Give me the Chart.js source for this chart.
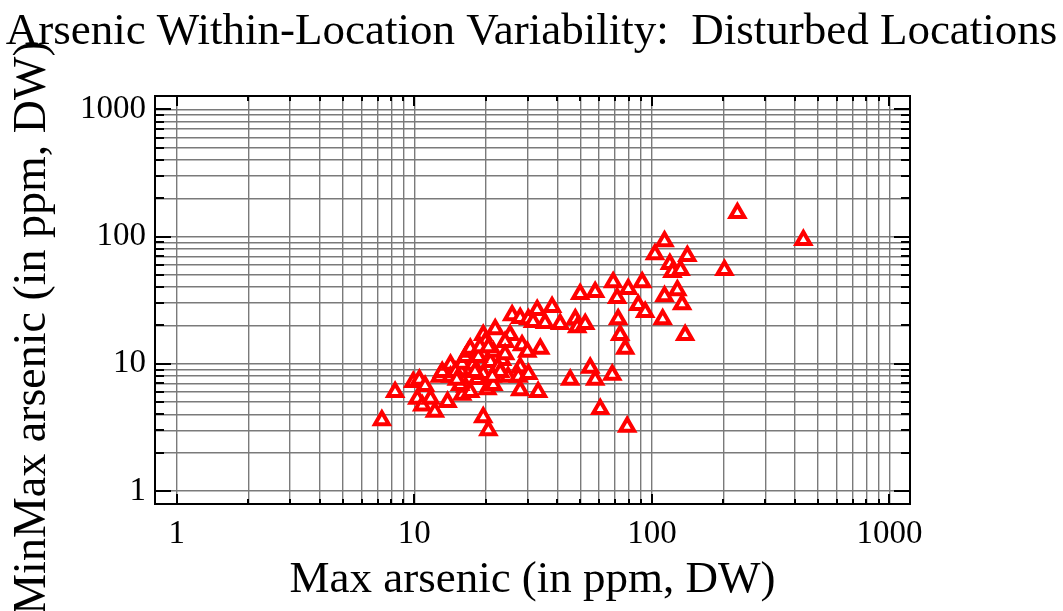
<!DOCTYPE html>
<html>
<head>
<meta charset="utf-8">
<title>Arsenic Within-Location Variability</title>
<script src="https://cdn.jsdelivr.net/npm/chart.js@4.4.1/dist/chart.umd.min.js"></script>
<style>
    html, body { margin: 0; padding: 0; background: #fff; }
    #wrap { width: 1063px; height: 611px; position: relative; }
</style>
</head>
<body>
<div id="wrap"><canvas id="chart"></canvas></div>
<script>
// Max arsenic per location (ppm, DW)
const maxArsenic = [
    7.3, 8.3, 9.9, 10.5, 10.3, 10.8, 11.7, 12.2, 13.8, 12.8,
    13.1, 14.2, 15.6, 15.9, 16.4, 16.9, 17.2, 17.7, 15.9, 16.4,
    17.2, 15.6, 18.4, 19.5, 20.3, 21.5, 20.9, 19.5, 19.9, 21.9,
    21.5, 23.4, 22.5, 19.5, 20.5, 25.3, 25.8, 27.9, 30.2, 32.9,
    38.0, 31.6, 35.5, 41.1, 47.6, 48.5, 52.4, 28.4, 29.9, 33.9,
    27.9, 24.8, 27.4, 30.2, 27.9, 33.2, 45.3, 55.0, 57.7, 68.1,
    60.6, 78.7, 49.9, 57.7, 68.7, 79.5, 91.0, 71.4, 87.6, 93.7,
    72.1, 73.5, 77.2, 103, 113, 119, 122, 132, 141, 128,
    113, 134, 111, 138, 202, 229, 434, 14.2, 14.9, 18.6,
    18.9, 20.5, 24.1, 23.0, 21.3, 18.0, 15.1, 11.1, 24.1
];
// MinMax arsenic per location (ppm, DW)
const minMaxArsenic = [
    3.6, 6.0, 7.2, 7.5, 5.3, 4.7, 5.3, 4.2, 5.0, 7.9,
    8.6, 9.8, 8.9, 10.0, 11.3, 12.4, 13.1, 9.8, 5.7, 6.6,
    6.0, 6.8, 7.6, 8.3, 6.3, 6.8, 10.3, 16.8, 14.8, 18.7,
    12.4, 10.7, 9.4, 3.8, 3.0, 16.8, 24.1, 22.9, 22.4, 26.4,
    27.9, 21.3, 20.9, 20.5, 22.4, 19.4, 20.5, 14.0, 12.4, 13.1,
    9.4, 7.9, 7.9, 8.3, 6.2, 6.0, 7.5, 9.3, 7.5, 8.2,
    4.4, 3.2, 35.3, 36.6, 43.8, 38.6, 43.8, 32.8, 28.9, 25.5,
    22.4, 16.8, 13.1, 72.7, 92, 60.7, 52.5, 54.5, 70.2, 37.9,
    34.0, 29.4, 22.4, 16.8, 54.5, 153, 93.7, 7.9, 8.6, 11.3,
    13.5, 13.5, 14.8, 8.6, 7.9, 8.6, 7.5, 6.7, 11.9
];
const tickLabels = [1, 10, 100, 1000];

const titleText = 'Arsenic Within-Location Variability:  Disturbed Locations';
const xTitle = 'Max arsenic (in ppm, DW)';
const yTitle = 'MinMax arsenic (in ppm, DW)';

const SERIF = '"Liberation Serif", "Times New Roman", serif';

// grid at 1..9 of every decade
const gridValues = [];
for (let d = 1; d < 1000; d *= 10) {
    for (let k = 1; k < 10; k++) gridValues.push(k * d);
}
gridValues.push(1000);

// box, inward tick marks and the two big titles
const frame = {
    id: 'frame',
    beforeDatasetsDraw(chart) {
        const { ctx, chartArea: a, scales: { x, y } } = chart;
        ctx.save();
        ctx.strokeStyle = '#000';
        ctx.lineWidth = 2;
        ctx.beginPath();
        gridValues.forEach(v => {
            const major = tickLabels.includes(v);
            const px = Math.round(x.getPixelForValue(v));
            const lx = major ? 10 : 5;
            ctx.moveTo(px, a.bottom); ctx.lineTo(px, a.bottom - lx);
            ctx.moveTo(px, a.top); ctx.lineTo(px, a.top + lx);
            const py = Math.round(y.getPixelForValue(v));
            const ly = major ? 16 : 9;
            ctx.moveTo(a.left, py); ctx.lineTo(a.left + ly, py);
            ctx.moveTo(a.right, py); ctx.lineTo(a.right - ly, py);
        });
        ctx.stroke();
        ctx.strokeRect(a.left, a.top, a.width, a.height);
        ctx.restore();
    },
    afterDraw(chart) {
        const ctx = chart.ctx;
        ctx.save();
        ctx.fillStyle = '#000';
        ctx.textAlign = 'center';
        ctx.textBaseline = 'middle';
        ctx.translate(33, 328);
        ctx.rotate(-Math.PI / 2);
        ctx.font = '46px ' + SERIF;
        ctx.fillText(yTitle, 0, 0);
        ctx.restore();

        ctx.save();
        ctx.fillStyle = '#000';
        ctx.textAlign = 'center';
        ctx.textBaseline = 'middle';
        ctx.font = '45px ' + SERIF;
        ctx.fillText(titleText, chart.width / 2, 32);
        ctx.restore();
    }
};

const logTicks = scale => { scale.ticks = gridValues.map(v => ({ value: v })); };
const tickText = v => tickLabels.includes(v) ? String(v) : '';

new Chart(document.getElementById('chart'), {
    type: 'scatter',
    data: {
        datasets: [{
            data: maxArsenic.map((v, i) => ({ x: v, y: minMaxArsenic[i] })),
            pointStyle: 'triangle',
            pointRadius: 8,
            pointBorderWidth: 4,
            borderColor: '#ff0000',
            backgroundColor: '#ffffff'
        }]
    },
    options: {
        responsive: true,
        maintainAspectRatio: false,
        animation: false,
        layout: { padding: { top: 96, right: 153, bottom: 0, left: 0 } },
        plugins: {
            legend: { display: false },
            tooltip: { enabled: false }
        },
        scales: {
            x: {
                type: 'logarithmic',
                min: 0.81,
                max: 1220,
                afterBuildTicks: logTicks,
                afterFit: s => { s.height = 107; },
                border: { display: false },
                grid: { color: '#7a7a7a', lineWidth: 1.4, drawTicks: false },
                ticks: {
                    autoSkip: false, maxRotation: 0, padding: 11, color: '#000',
                    font: { family: SERIF, size: 33 },
                    callback: tickText
                },
                title: {
                    display: true, text: xTitle, color: '#000',
                    font: { family: SERIF, size: 45 },
                    padding: { top: 0, bottom: 4 }
                }
            },
            y: {
                type: 'logarithmic',
                min: 0.79,
                max: 1272,
                afterBuildTicks: logTicks,
                afterFit: s => { s.width = 155; },
                border: { display: false },
                grid: { color: '#7a7a7a', lineWidth: 1.4, drawTicks: false },
                ticks: {
                    autoSkip: false, padding: 9, color: '#000',
                    font: { family: SERIF, size: 33 },
                    callback: tickText
                }
            }
        }
    },
    plugins: [frame]
});
</script>
</body>
</html>
